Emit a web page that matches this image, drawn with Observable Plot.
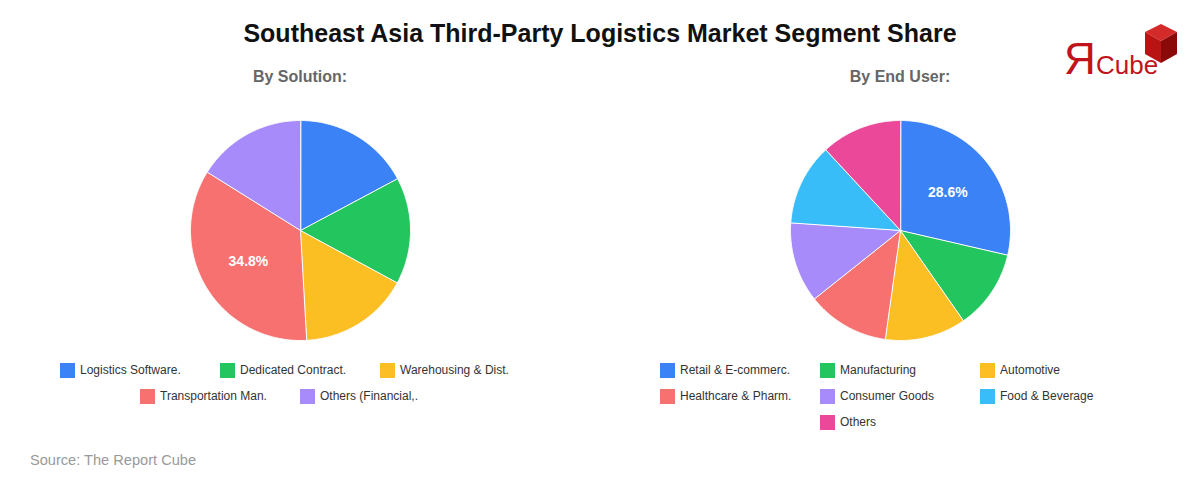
<!DOCTYPE html>
<html><head><meta charset="utf-8">
<script src="https://cdn.jsdelivr.net/npm/d3@7"></script>
<script src="https://cdn.jsdelivr.net/npm/@observablehq/plot@0.6"></script>
<style>
body{margin:0;background:#fff;font-family:"Liberation Sans",Arial,sans-serif;}
#root{position:relative;width:1200px;height:480px;overflow:hidden;background:#fff;}
.title{position:absolute;left:0;top:18px;width:1200px;text-align:center;font-size:25px;line-height:30px;font-weight:bold;color:#111;}
.sub{position:absolute;top:67px;width:600px;text-align:center;font-size:16px;line-height:20px;font-weight:bold;color:#666;}
.plot{position:absolute;top:110px;width:600px;height:240px;}
.legend{position:absolute;top:357px;width:480px;display:flex;flex-wrap:wrap;justify-content:center;}
.item{width:160px;height:26px;display:flex;align-items:center;font-size:12px;color:#333;white-space:nowrap;}
.sw{width:15px;height:15px;margin-right:5px;flex:none;}
.source{position:absolute;left:30px;top:452px;font-size:14.6px;color:#999;}
.logo{position:absolute;left:1050px;top:18px;}
</style>
</head><body>
<div id="root">
  <div class="title">Southeast Asia Third-Party Logistics Market Segment Share</div>
  <div class="sub" style="left:0">By Solution:</div>
  <div class="sub" style="left:600px">By End User:</div>
  <div class="plot" id="p1" style="left:0"></div>
  <div class="plot" id="p2" style="left:600px"></div>
  <div class="legend" id="l1" style="left:60px"></div>
  <div class="legend" id="l2" style="left:660px"></div>
  <div class="source">Source: The Report Cube</div>
  <svg class="logo" width="140" height="65" viewBox="0 0 140 65">
    <polygon points="111,6 127,14 111,23 95,14" fill="#d42a2a"/>
    <polygon points="95,14 111,23 111,45 95,36" fill="#b81414"/>
    <polygon points="111,23 127,14 127,36 111,45" fill="#8a0a0a"/>
    <text x="14" y="56" font-family="Liberation Sans, Arial, sans-serif" font-size="44" fill="#c0141c">Я</text>
    <text x="46" y="56" font-family="Liberation Sans, Arial, sans-serif" font-size="26" fill="#c0141c">Cube</text>
  </svg>
</div>
<script>
// By Solution
const solutionLabels = ["Logistics Software.", "Dedicated Contract.", "Warehousing & Dist.", "Transportation Man.", "Others (Financial,."];
const solutionValues = [17.2, 15.7, 16.2, 34.8, 16.1];
const solutionColors = ["#3b82f6", "#22c55e", "#fbbf24", "#f87171", "#a78bfa"];
// By End User
const endUserLabels = ["Retail & E-commerc.", "Manufacturing", "Automotive", "Healthcare & Pharm.", "Consumer Goods", "Food & Beverage", "Others"];
const endUserValues = [28.6, 11.7, 11.9, 12.1, 11.8, 12.0, 11.9];
const endUserColors = ["#3b82f6", "#22c55e", "#fbbf24", "#f87171", "#a78bfa", "#38bdf8", "#ec4899"];

function piePlot(labels, values, colors) {
  const arcs = d3.pie().sort(null).value(d => d)(values);
  const pts = [];
  arcs.forEach((a, i) => {
    const n = Math.max(2, Math.ceil((a.endAngle - a.startAngle) / (Math.PI / 360)));
    pts.push({label: labels[i], x: 0, y: 0});
    for (let k = 0; k <= n; k++) {
      const t = a.startAngle + (a.endAngle - a.startAngle) * k / n;
      pts.push({label: labels[i], x: Math.sin(t), y: Math.cos(t)});
    }
  });
  const mi = d3.maxIndex(values);
  const mid = (arcs[mi].startAngle + arcs[mi].endAngle) / 2;
  const lab = [{x: 0.55 * Math.sin(mid), y: 0.55 * Math.cos(mid), text: values[mi].toFixed(1) + "%"}];
  return Plot.plot({
    width: 600, height: 240, margin: 0,
    style: {fontFamily: "Liberation Sans, Arial, sans-serif", background: "transparent"},
    x: {domain: [-300 / 110, 300 / 110], axis: null},
    y: {domain: [-120 / 110, 120 / 110], axis: null},
    color: {domain: labels, range: colors},
    marks: [
      Plot.line(pts, {x: "x", y: "y", z: "label", fill: "label", stroke: "white", strokeWidth: 1, curve: "linear-closed"}),
      Plot.text(lab, {x: "x", y: "y", text: "text", fill: "white", fontSize: 14, fontWeight: "bold"})
    ]
  });
}
function legend(el, labels, colors) {
  labels.forEach((l, i) => {
    const it = document.createElement("div"); it.className = "item";
    const sw = document.createElement("span"); sw.className = "sw"; sw.style.background = colors[i];
    const tx = document.createElement("span"); tx.textContent = l;
    it.appendChild(sw); it.appendChild(tx); el.appendChild(it);
  });
}
document.getElementById("p1").appendChild(piePlot(solutionLabels, solutionValues, solutionColors));
document.getElementById("p2").appendChild(piePlot(endUserLabels, endUserValues, endUserColors));
legend(document.getElementById("l1"), solutionLabels, solutionColors);
legend(document.getElementById("l2"), endUserLabels, endUserColors);
</script>
</body></html>
